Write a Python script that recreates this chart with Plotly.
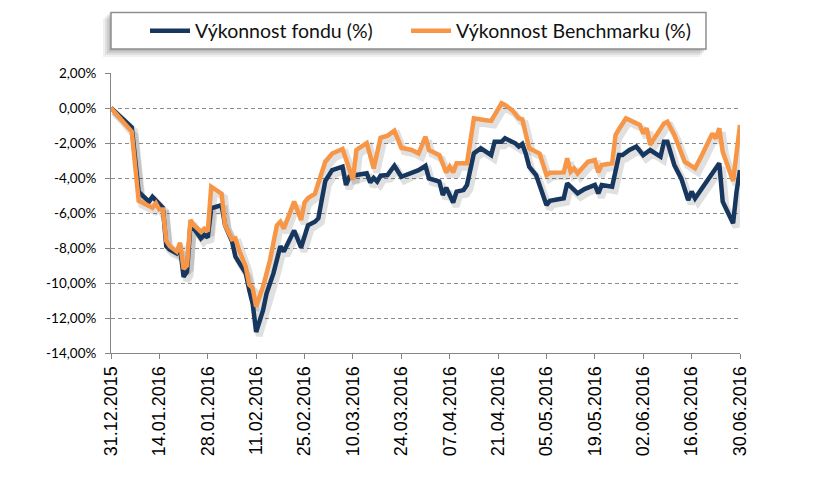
import pandas as pd
import plotly.graph_objects as go

# ---------------- data ----------------
fund_dates = [
    "2015-12-31", "2016-01-05", "2016-01-06", "2016-01-08", "2016-01-10", "2016-01-11",
    "2016-01-12", "2016-01-14", "2016-01-15", "2016-01-16", "2016-01-17", "2016-01-19",
    "2016-01-20", "2016-01-21", "2016-01-22", "2016-01-23", "2016-01-26", "2016-01-27",
    "2016-01-28", "2016-01-29", "2016-02-01", "2016-02-02", "2016-02-04", "2016-02-05",
    "2016-02-08", "2016-02-09", "2016-02-10", "2016-02-11", "2016-02-13", "2016-02-14",
    "2016-02-16", "2016-02-18", "2016-02-19", "2016-02-22", "2016-02-24", "2016-02-26",
    "2016-02-28", "2016-02-29", "2016-03-02", "2016-03-04", "2016-03-07", "2016-03-08",
    "2016-03-09", "2016-03-11", "2016-03-14", "2016-03-15", "2016-03-16", "2016-03-17",
    "2016-03-18", "2016-03-20", "2016-03-22", "2016-03-24", "2016-03-27", "2016-03-29",
    "2016-03-31", "2016-04-01", "2016-04-04", "2016-04-05", "2016-04-06", "2016-04-08",
    "2016-04-09", "2016-04-11", "2016-04-12", "2016-04-14", "2016-04-16", "2016-04-19",
    "2016-04-20", "2016-04-22", "2016-04-23", "2016-04-25", "2016-04-26", "2016-04-27",
    "2016-04-28", "2016-04-29", "2016-04-30", "2016-05-02", "2016-05-04", "2016-05-05",
    "2016-05-06", "2016-05-08", "2016-05-10", "2016-05-11", "2016-05-14", "2016-05-16",
    "2016-05-19", "2016-05-20", "2016-05-21", "2016-05-24", "2016-05-26", "2016-05-27",
    "2016-05-29", "2016-05-31", "2016-06-02", "2016-06-04", "2016-06-07", "2016-06-08",
    "2016-06-09", "2016-06-11", "2016-06-13", "2016-06-15", "2016-06-16", "2016-06-17",
    "2016-06-21", "2016-06-24", "2016-06-25", "2016-06-28", "2016-06-29", "2016-06-30",
]
fund_values = [
    0.00, -0.95, -1.10, -4.80, -5.20, -5.35,
    -5.07, -5.55, -5.70, -7.90, -8.10, -8.30,
    -8.00, -9.65, -9.35, -6.60, -7.45, -7.25,
    -7.40, -5.73, -5.55, -6.70, -7.60, -8.50,
    -9.45, -10.40, -11.20, -12.80, -11.55, -10.60,
    -9.45, -7.90, -8.20, -7.00, -7.97, -6.70,
    -6.50, -6.30, -4.17, -3.55, -3.35, -4.40,
    -3.93, -3.83, -3.73, -4.25, -4.00, -4.20,
    -3.87, -3.83, -3.30, -3.93, -3.68, -3.55,
    -3.30, -4.02, -4.20, -4.97, -4.55, -5.40,
    -4.78, -4.69, -4.40, -2.59, -2.30, -2.69,
    -1.93, -1.93, -1.73, -1.93, -2.02, -2.20,
    -2.05, -2.60, -3.35, -3.83, -4.97, -5.54,
    -5.30, -5.26, -5.16, -4.30, -4.88, -4.63,
    -4.40, -4.88, -4.40, -4.50, -2.69, -2.69,
    -2.40, -2.20, -2.69, -2.40, -2.78, -1.93,
    -1.93, -3.26, -4.02, -5.26, -4.78, -5.16,
    -4.02, -3.16, -5.35, -6.59, -4.78, -3.55,
]

bench_dates = [
    "2015-12-31", "2016-01-05", "2016-01-06", "2016-01-08", "2016-01-11", "2016-01-12",
    "2016-01-13", "2016-01-14", "2016-01-15", "2016-01-16", "2016-01-17", "2016-01-19",
    "2016-01-20", "2016-01-21", "2016-01-22", "2016-01-23", "2016-01-24", "2016-01-26",
    "2016-01-27", "2016-01-28", "2016-01-29", "2016-02-01", "2016-02-02", "2016-02-04",
    "2016-02-05", "2016-02-06", "2016-02-08", "2016-02-09", "2016-02-10", "2016-02-11",
    "2016-02-13", "2016-02-15", "2016-02-17", "2016-02-18", "2016-02-19", "2016-02-22",
    "2016-02-24", "2016-02-25", "2016-02-26", "2016-02-28", "2016-03-02", "2016-03-04",
    "2016-03-07", "2016-03-08", "2016-03-10", "2016-03-11", "2016-03-14", "2016-03-16",
    "2016-03-18", "2016-03-20", "2016-03-22", "2016-03-24", "2016-03-27", "2016-03-29",
    "2016-03-31", "2016-04-01", "2016-04-04", "2016-04-06", "2016-04-07", "2016-04-08",
    "2016-04-09", "2016-04-12", "2016-04-14", "2016-04-17", "2016-04-19", "2016-04-22",
    "2016-04-23", "2016-04-25", "2016-04-27", "2016-04-28", "2016-04-29", "2016-04-30",
    "2016-05-03", "2016-05-05", "2016-05-06", "2016-05-10", "2016-05-11", "2016-05-12",
    "2016-05-13", "2016-05-14", "2016-05-17", "2016-05-19", "2016-05-20", "2016-05-21",
    "2016-05-24", "2016-05-25", "2016-05-26", "2016-05-28", "2016-05-30", "2016-06-01",
    "2016-06-02", "2016-06-03", "2016-06-04", "2016-06-06", "2016-06-08", "2016-06-09",
    "2016-06-11", "2016-06-14", "2016-06-17", "2016-06-19", "2016-06-22", "2016-06-23",
    "2016-06-24", "2016-06-25", "2016-06-28", "2016-06-30",
]
bench_values = [
    0.00, -1.07, -1.35, -5.30, -5.60, -5.70,
    -5.45, -5.80, -5.80, -7.60, -7.90, -8.20,
    -7.70, -9.20, -9.00, -6.40, -6.70, -7.07,
    -6.90, -7.05, -4.50, -4.90, -6.70, -7.50,
    -7.45, -8.10, -9.07, -10.10, -10.30, -11.35,
    -10.20, -8.70, -6.70, -6.50, -6.90, -5.35,
    -6.40, -5.40, -5.15, -4.90, -3.07, -2.60,
    -2.34, -2.88, -4.10, -2.40, -2.00, -3.45,
    -1.70, -1.58, -1.30, -2.27, -2.40, -2.60,
    -1.64, -2.40, -2.70, -3.68, -3.35, -3.68,
    -3.16, -3.16, -0.59, -0.69, -0.74, 0.27,
    0.17, -0.11, -0.59, -0.65, -1.45, -2.30,
    -2.60, -3.83, -3.70, -3.68, -2.88, -3.64,
    -3.45, -3.73, -3.07, -2.97, -3.68, -3.26,
    -3.16, -1.54, -1.20, -0.59, -0.78, -0.97,
    -1.45, -1.16, -2.10, -1.54, -0.88, -0.78,
    -1.54, -3.07, -3.45, -2.69, -1.45, -1.75,
    -1.16, -2.50, -4.17, -0.97,
]

series_names = ["Výkonnost fondu (%)", "Výkonnost Benchmarku (%)"]
y_tick_values = [2, 0, -2, -4, -6, -8, -10, -12, -14]
y_tick_labels = ["2,00%", "0,00%", "-2,00%", "-4,00%", "-6,00%", "-8,00%",
                 "-10,00%", "-12,00%", "-14,00%"]
x_start, x_end = "2015-12-31", "2016-06-30"

# ---------------- styling ----------------
NAVY = "#17375E"
ORANGE = "#F79646"
AXIS_GRAY = "#868686"
GRID_GRAY = "#8C8C8C"
W, H = 834, 481
ML, MR, MT, MB = 111, 94, 73, 128
PW, PH = W - ML - MR, H - MT - MB


def px(x):
    return (x - ML) / PW


def py(y):
    return (H - MB - y) / PH


# shadow axes (base subplot) are shifted by a few pixels (down-right)
day_px = PW / ((pd.Timestamp(x_end) - pd.Timestamp(x_start)).days)
shift_x = pd.Timedelta(days=3.0 / day_px)
shift_y = 4.0 * 16.0 / PH
sx_range = [str(pd.Timestamp(x_start) - shift_x), str(pd.Timestamp(x_end) - shift_x)]
sy_range = [-14 + shift_y, 2 + shift_y]

fig = go.Figure()

for dates, vals in [(fund_dates, fund_values), (bench_dates, bench_values)]:
    fig.add_trace(go.Scatter(
        x=dates, y=vals, mode="lines", xaxis="x", yaxis="y",
        line=dict(color="rgba(0,0,0,0.12)", width=7), showlegend=False,
        hoverinfo="skip"))

fig.add_trace(go.Scatter(x=fund_dates, y=fund_values, mode="lines", name=series_names[0],
                         xaxis="x2", yaxis="y2", legend="legend",
                         line=dict(color=NAVY, width=4.5)))
fig.add_trace(go.Scatter(x=bench_dates, y=bench_values, mode="lines", name=series_names[1],
                         xaxis="x2", yaxis="y2", legend="legend2",
                         line=dict(color=ORANGE, width=4.5)))

# legend box with shadow
shapes = []
bx0, bx1, by0, by1 = 111, 706, 12.5, 49
for k, op in [(8, 0.06), (6, 0.07), (4, 0.08), (2, 0.09)]:
    shapes.append(dict(type="rect", xref="paper", yref="paper",
                       x0=px(bx0 - k), x1=px(bx1 - k + 2), y0=py(by1 + k), y1=py(by0 + k - 2),
                       line=dict(width=0), fillcolor=f"rgba(0,0,0,{op})", layer="above"))
shapes.append(dict(type="rect", xref="paper", yref="paper",
                   x0=px(bx0), x1=px(bx1), y0=py(by1), y1=py(by0),
                   line=dict(width=1.5, color="#8F8F8F"), fillcolor="white", layer="above"))

legend_common = dict(orientation="h", y=py(31), xanchor="left", yanchor="middle",
                     bgcolor="rgba(0,0,0,0)", borderwidth=0,
                     font=dict(family="Lato", size=19.5, color="#111111"),
                     itemwidth=40)

fig.update_layout(
    width=W, height=H,
    margin=dict(l=ML, r=MR, t=MT, b=MB, pad=0, autoexpand=False),
    paper_bgcolor="white", plot_bgcolor="white",
    shapes=shapes,
    showlegend=True,
    legend=dict(x=px(145), **legend_common),
    legend2=dict(x=px(406), **legend_common),
    xaxis=dict(type="date", range=sx_range, showline=False, showticklabels=False,
               ticks="", showgrid=False, zeroline=False),
    yaxis=dict(range=sy_range, showline=False, showticklabels=False,
               ticks="", showgrid=False, zeroline=False),
    xaxis2=dict(type="date", range=[x_start, x_end], overlaying="x", anchor="y2", side="bottom",
                tick0=x_start, dtick=14 * 86400000,
                tickformat="%d.%m.%Y", tickangle=-90, ticks="outside", ticklen=5,
                tickcolor=AXIS_GRAY, showline=True, linecolor=AXIS_GRAY, linewidth=1,
                showgrid=False, zeroline=False,
                tickfont=dict(family="Liberation Sans", size=18, color="#000000")),
    yaxis2=dict(range=[-14, 2], overlaying="y", anchor="x2", side="left",
                tickvals=y_tick_values, ticktext=y_tick_labels,
                ticks="outside", ticklen=5, tickcolor=AXIS_GRAY, ticklabelstandoff=6,
                showline=True, linecolor=AXIS_GRAY, linewidth=1,
                showgrid=True, gridcolor=GRID_GRAY, gridwidth=1, griddash="4px,3px",
                zeroline=False,
                tickfont=dict(family="Lato", size=13.5, color="#000000")),
)

fig.write_html("out.html", config={"displayModeBar": False},
               post_script="document.body.style.margin='0px';")
